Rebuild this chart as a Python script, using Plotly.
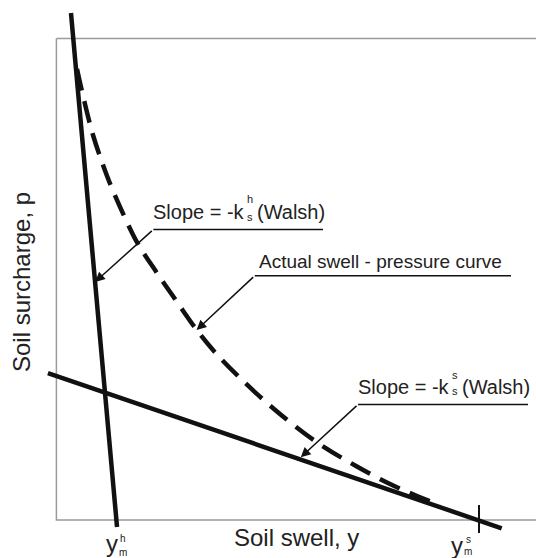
import plotly.graph_objects as go

# ---- data (x: soil swell, y: soil surcharge; frame spans 0..100 on both) ----
curve_x = [4.30, 5.75, 7.63, 9.72, 11.38, 14.51, 17.01, 20.98, 25.15, 29.11, 32.65,
           38.07, 45.37, 53.92, 62.47, 69.56, 75.19, 80.06]
curve_y = [93.65, 87.21, 79.94, 73.71, 69.35, 62.29, 57.31, 51.29, 45.27, 39.66, 35.30,
           29.69, 23.05, 16.40, 11.21, 7.48, 4.98, 3.11]

steep_x = [3.04, 12.64]        # slope = -k_s^h (Walsh)
steep_y = [105.27, -1.45]
shallow_x = [-1.77, 92.85]     # slope = -k_s^s (Walsh)
shallow_y = [30.52, -1.72]

ymh = 12.5   # y_m^h
yms = 88.11  # y_m^s
tick_y = [3.11, -2.70]

frame_x = [0, 0, 100]
frame_y = [100, 0, 0]
frame_top_x = [0, 100]
frame_top_y = [100, 100]

FONT = "Liberation Sans, Arial, sans-serif"
INK = "#111111"
TXT = "#222222"

fig = go.Figure()

# frame
fig.add_trace(go.Scatter(x=frame_x, y=frame_y, mode="lines",
                         line=dict(color="#9a9a9a", width=1.5), hoverinfo="skip"))
fig.add_trace(go.Scatter(x=frame_top_x, y=frame_top_y, mode="lines",
                         line=dict(color="#9a9a9a", width=1.5), hoverinfo="skip"))

# lines
fig.add_trace(go.Scatter(x=steep_x, y=steep_y, mode="lines",
                         line=dict(color=INK, width=4.5), hoverinfo="skip"))
fig.add_trace(go.Scatter(x=shallow_x, y=shallow_y, mode="lines",
                         line=dict(color=INK, width=4.5), hoverinfo="skip"))
fig.add_trace(go.Scatter(x=curve_x, y=curve_y, mode="lines",
                         line=dict(color=INK, width=4.5, dash="22px,11px",
                                   shape="spline", smoothing=1.0),
                         hoverinfo="skip"))
# tick at y_m^s
fig.add_trace(go.Scatter(x=[yms, yms], y=tick_y, mode="lines",
                         line=dict(color=INK, width=2), hoverinfo="skip"))

# leader underlines
for (x0, x1, yy) in [(20.21, 55.59, 60.32), (41.35, 94.79, 50.71), (62.89, 98.33, 23.98)]:
    fig.add_trace(go.Scatter(x=[x0, x1], y=[yy, yy], mode="lines",
                             line=dict(color=INK, width=1.5), hoverinfo="skip"))

ann = []
# leader diagonals with arrowheads
for (tx, ty, hx, hy) in [(20.21, 60.32, 8.07, 49.42),
                         (41.35, 50.71, 29.23, 39.45),
                         (62.89, 23.98, 50.96, 13.02)]:
    ann.append(dict(x=hx, y=hy, ax=tx, ay=ty, xref="x", yref="y", axref="x", ayref="y",
                    text="", showarrow=True, arrowhead=2, arrowsize=1.3, arrowwidth=1.5,
                    arrowcolor=INK))


def txt(x, y, s, size, xa="center", ya="middle", angle=0):
    ann.append(dict(x=x, y=y, xref="x", yref="y", text=s, showarrow=False,
                    xanchor=xa, yanchor=ya, textangle=angle,
                    font=dict(family=FONT, size=size, color=TXT)))


# label 1
txt(39.74, 63.95, "Slope = -k", 20, xa="right")
txt(40.32, 66.6, "h", 11)
txt(40.32, 63.0, "s", 11)
txt(41.41, 63.95, "(Walsh)", 20, xa="left")
# label 2
txt(41.83, 53.65, "Actual swell - pressure curve", 19, xa="left")
# label 3
txt(82.42, 27.68, "Slope = -k", 20, xa="right")
txt(83.11, 30.1, "s", 11)
txt(83.11, 26.7, "s", 11)
txt(84.15, 27.68, "(Walsh)", 20, xa="left")

# axis titles
txt(49.96, -3.53, "Soil swell, y", 24)
txt(-7.17, 49.42, "Soil surcharge, p", 24, angle=-90)

# tick labels
txt(11.53, -4.78, "y", 24)
txt(13.95, -3.74, "h", 10)
txt(13.95, -6.85, "m", 10)
txt(83.47, -5.19, "y", 24)
txt(85.88, -4.15, "s", 10)
txt(85.88, -6.58, "m", 10)

fig.update_layout(
    width=536, height=558, autosize=False,
    margin=dict(l=0, r=0, t=0, b=0, pad=0),
    paper_bgcolor="white", plot_bgcolor="white",
    showlegend=False,
    xaxis=dict(range=[-11.76, 100], visible=False, fixedrange=True),
    yaxis=dict(range=[-7.89, 107.97], visible=False, fixedrange=True),
    annotations=ann,
)

fig.write_html("out.html")
